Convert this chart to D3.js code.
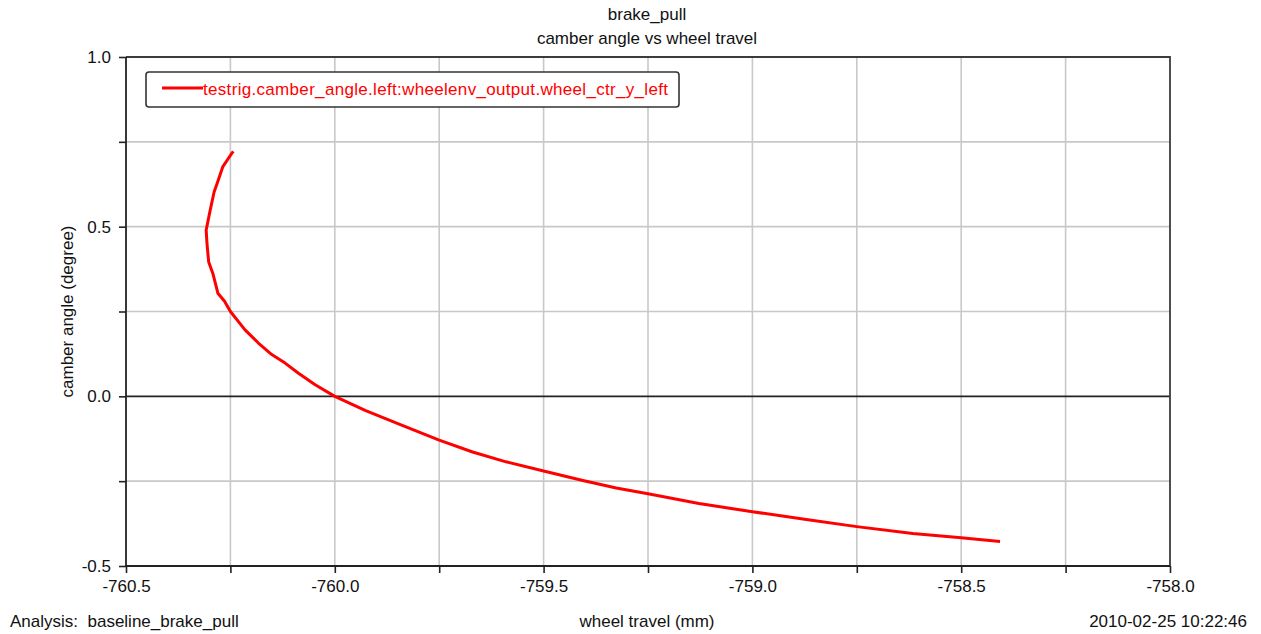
<!DOCTYPE html>
<html>
<head>
<meta charset="utf-8">
<script src="https://cdn.jsdelivr.net/npm/d3@7"></script>
<style>
  html, body { margin: 0; padding: 0; background: #ffffff; }
  svg { display: block; }
  text { font-family: "Liberation Sans", Arial, sans-serif; }
</style>
</head>
<body>
<svg id="chart" width="1261" height="634"></svg>
<script>
// ---------- data ----------
const titleLines = ["brake_pull", "camber angle vs wheel travel"];
const xLabel = "wheel travel (mm)";
const yLabel = "camber angle (degree)";
const seriesName = "testrig.camber_angle.left:wheelenv_output.wheel_ctr_y_left";
const footerLeft = "Analysis:  baseline_brake_pull";
const footerRight = "2010-02-25 10:22:46";

const xDomain = [-760.5, -758.0];
const yDomain = [-0.5, 1.0];
const xMajorTicks = [-760.5, -760.0, -759.5, -759.0, -758.5, -758.0];
const xMinorTicks = [-760.25, -759.75, -759.25, -758.75, -758.25];
const yMajorTicks = [-0.5, 0.0, 0.5, 1.0];
const yMinorTicks = [-0.25, 0.25, 0.75];

// wheel travel (mm)
const wheelTravel = [
  -760.243, -760.249, -760.268, -760.280, -760.289, -760.298, -760.308, -760.306,
  -760.302, -760.292, -760.280, -760.264, -760.250, -760.215, -760.183, -760.151,
  -760.119, -760.087, -760.047, -760.000, -759.926, -759.846, -759.750, -759.670,
  -759.590, -759.500, -759.406, -759.326, -759.250, -759.128, -759.000, -758.871,
  -758.750, -758.616, -758.500, -758.407
];
// camber angle (degree)
const camberAngle = [
  0.722, 0.712, 0.677, 0.634, 0.602, 0.551, 0.490, 0.449,
  0.396, 0.362, 0.304, 0.280, 0.250, 0.196, 0.157, 0.123,
  0.098, 0.068, 0.034, 0.000, -0.042, -0.082, -0.129, -0.164,
  -0.193, -0.220, -0.248, -0.270, -0.287, -0.316, -0.340, -0.363,
  -0.384, -0.404, -0.417, -0.428
];

// ---------- layout ----------
const svg = d3.select("#chart");
const m = { left: 126, top: 57, right: 1170, bottom: 566 };

const x = d3.scaleLinear().domain(xDomain).range([m.left, m.right]);
const y = d3.scaleLinear().domain(yDomain).range([m.bottom, m.top]);

const allX = xMajorTicks.concat(xMinorTicks).sort((a, b) => a - b);
const allY = yMajorTicks.concat(yMinorTicks).sort((a, b) => a - b);

// grid
const grid = svg.append("g");
grid.selectAll("line.vx").data(allX.filter(v => v > xDomain[0] && v < xDomain[1]))
  .enter().append("line")
  .attr("x1", d => x(d)).attr("x2", d => x(d))
  .attr("y1", m.top).attr("y2", m.bottom)
  .attr("stroke", "#c8c8c8").attr("stroke-width", 1.6);
grid.selectAll("line.hy").data(allY.filter(v => v > yDomain[0] && v < yDomain[1]))
  .enter().append("line")
  .attr("x1", m.left).attr("x2", m.right)
  .attr("y1", d => y(d)).attr("y2", d => y(d))
  .attr("stroke", d => d === 0 ? "#222222" : "#c8c8c8")
  .attr("stroke-width", 1.6);

// frame (top, right)
svg.append("path")
  .attr("d", `M${m.left},${m.top}H${m.right}V${m.bottom}`)
  .attr("fill", "none").attr("stroke", "#3c3c3c").attr("stroke-width", 1.8);

// axes
const fmt = d3.formatLocale({ decimal: ".", thousands: ",", grouping: [3], currency: ["", ""], minus: "-" }).format(".1f");
const xAxis = d3.axisBottom(x).tickValues(allX)
  .tickFormat(d => xMajorTicks.includes(d) ? fmt(d) : "")
  .tickSize(7).tickPadding(7);
const yAxis = d3.axisLeft(y).tickValues(allY)
  .tickFormat(d => yMajorTicks.includes(d) ? fmt(d) : "")
  .tickSize(7).tickPadding(8);

const gx = svg.append("g").attr("transform", `translate(0,${m.bottom})`).call(xAxis);
const gy = svg.append("g").attr("transform", `translate(${m.left},0)`).call(yAxis);
[gx, gy].forEach(g => {
  g.select(".domain").attr("stroke", "#222").attr("stroke-width", 1.8);
  g.selectAll(".tick line").attr("stroke", "#222").attr("stroke-width", 1.6);
  g.selectAll(".tick text").attr("fill", "#111").style("font-size", "17px")
    .style("font-family", "'Liberation Sans', Arial, sans-serif");
});
gx.select(".domain").attr("d", `M${m.left},0H${m.right}`);
gy.select(".domain").attr("d", `M0,${m.bottom}V${m.top}`);

// curve
const line = d3.line().x(d => x(d[0])).y(d => y(d[1]));
const pts = wheelTravel.map((v, i) => [v, camberAngle[i]]);
svg.append("path").datum(pts)
  .attr("d", line)
  .attr("fill", "none").attr("stroke", "#ff0000").attr("stroke-width", 3)
  .attr("stroke-linejoin", "round");

// legend
const lg = svg.append("g");
lg.append("rect").attr("x", 146).attr("y", 72).attr("width", 533).attr("height", 35)
  .attr("rx", 3).attr("fill", "#fff").attr("stroke", "#333").attr("stroke-width", 1.6);
lg.append("line").attr("x1", 162).attr("x2", 203).attr("y1", 88).attr("y2", 88)
  .attr("stroke", "#ff0000").attr("stroke-width", 3);
lg.append("text").attr("x", 203).attr("y", 95).attr("fill", "#ff0000")
  .attr("textLength", 465).attr("lengthAdjust", "spacing")
  .style("font-size", "17px").text(seriesName);

// titles
svg.selectAll("text.title").data(titleLines).enter().append("text")
  .attr("x", 647).attr("y", (d, i) => 20 + i * 24)
  .attr("text-anchor", "middle").attr("fill", "#111")
  .style("font-size", "17px").text(d => d);

svg.append("text").attr("x", 647).attr("y", 627).attr("text-anchor", "middle")
  .attr("fill", "#111").style("font-size", "17px").text(xLabel);
svg.append("text").attr("transform", `translate(73,${(m.top + m.bottom) / 2}) rotate(-90)`)
  .attr("text-anchor", "middle").attr("fill", "#111").style("font-size", "17px").text(yLabel);

svg.append("text").attr("x", 10).attr("y", 627).attr("fill", "#111")
  .style("font-size", "17px").style("white-space", "pre").attr("xml:space", "preserve").text(footerLeft);
svg.append("text").attr("x", 1247).attr("y", 627).attr("text-anchor", "end").attr("fill", "#111")
  .style("font-size", "17px").text(footerRight);
</script>
</body>
</html>
